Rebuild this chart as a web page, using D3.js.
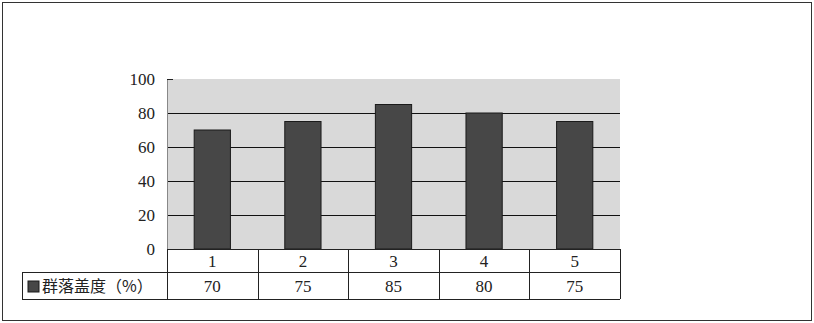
<!DOCTYPE html>
<html>
<head>
<meta charset="utf-8">
<script src="https://d3js.org/d3.v7.min.js"></script>
<style>
  body { margin: 0; background: #fff; }
</style>
</head>
<body>
<div id="chart"></div>
<script>
// chart data
const categories = ['1', '2', '3', '4', '5'];
const coverage = [70, 75, 85, 80, 75];
const seriesName = '群落盖度（%）';
const yTicks = [0, 20, 40, 60, 80, 100];

const width = 814, height = 323;
const plot = { left: 167, right: 620, top: 79, bottom: 249 };
const rowH = [23, 27];
const legendLeft = 22;

const numFont = '"Liberation Serif", "DejaVu Serif", serif';
const cjkFont = '"Noto Sans CJK SC", sans-serif';

const svg = d3.select('#chart')
    .append('svg')
    .attr('width', width)
    .attr('height', height);

svg.append('rect')
    .attr('x', 2.5).attr('y', 2.5)
    .attr('width', 809).attr('height', 318)
    .attr('fill', '#fff')
    .attr('stroke', '#333');

const x = d3.scaleBand()
    .domain(categories)
    .range([plot.left, plot.right]);

const y = d3.scaleLinear()
    .domain([0, 100])
    .range([plot.bottom, plot.top]);

// plot background
svg.append('rect')
    .attr('x', plot.left).attr('y', plot.top)
    .attr('width', plot.right - plot.left)
    .attr('height', plot.bottom - plot.top)
    .attr('fill', '#d9d9d9');

// gridlines
svg.append('g')
    .selectAll('line')
    .data(yTicks.filter(d => d > 0 && d < 100))
    .join('line')
    .attr('x1', plot.left).attr('x2', plot.right)
    .attr('y1', d => Math.round(y(d)) + 0.5)
    .attr('y2', d => Math.round(y(d)) + 0.5)
    .attr('stroke', '#111')
    .attr('stroke-width', 1.2);

// bars
const barW = x.bandwidth() * 0.4;
svg.append('g')
    .selectAll('rect')
    .data(coverage)
    .join('rect')
    .attr('x', (d, i) => x(categories[i]) + (x.bandwidth() - barW) / 2)
    .attr('y', d => y(d))
    .attr('width', barW)
    .attr('height', d => y(0) - y(d))
    .attr('fill', '#474747')
    .attr('stroke', '#1a1a1a')
    .attr('stroke-width', 1);

// y axis
const yAxis = svg.append('g')
    .attr('transform', `translate(${plot.left},0)`)
    .call(d3.axisLeft(y).tickValues(yTicks).tickSize(0).tickPadding(12));
yAxis.select('.domain').attr('stroke', '#888');
yAxis.selectAll('text')
    .attr('font-family', numFont)
    .attr('font-size', 17)
    .attr('fill', '#222');

// top tick at 100
svg.append('line')
    .attr('x1', plot.left).attr('x2', plot.left + 6)
    .attr('y1', y(100) + 0.5).attr('y2', y(100) + 0.5)
    .attr('stroke', '#222');

// data table
const t0 = plot.bottom, t1 = t0 + rowH[0], t2 = t1 + rowH[1];
const table = svg.append('g')
    .attr('stroke', '#222')
    .attr('stroke-width', 1);

table.append('line').attr('x1', plot.left).attr('x2', plot.right)
    .attr('y1', t0 + 0.5).attr('y2', t0 + 0.5);
table.append('line').attr('x1', legendLeft).attr('x2', plot.right)
    .attr('y1', t1 + 0.5).attr('y2', t1 + 0.5);
table.append('line').attr('x1', legendLeft).attr('x2', plot.right)
    .attr('y1', t2 + 0.5).attr('y2', t2 + 0.5);
table.append('line').attr('x1', legendLeft + 0.5).attr('x2', legendLeft + 0.5)
    .attr('y1', t1).attr('y2', t2);

table.selectAll('.col')
    .data(categories.concat(['end']))
    .join('line')
    .attr('class', 'col')
    .attr('x1', (d, i) => Math.round(plot.left + i * x.step()) + 0.5)
    .attr('x2', (d, i) => Math.round(plot.left + i * x.step()) + 0.5)
    .attr('y1', t0)
    .attr('y2', t2);

svg.append('g')
    .selectAll('text')
    .data(categories)
    .join('text')
    .attr('x', d => x(d) + x.bandwidth() / 2)
    .attr('y', (t0 + t1) / 2 + 6)
    .attr('text-anchor', 'middle')
    .attr('font-family', numFont)
    .attr('font-size', 17)
    .attr('fill', '#222')
    .text(d => d);

svg.append('g')
    .selectAll('text')
    .data(coverage)
    .join('text')
    .attr('x', (d, i) => x(categories[i]) + x.bandwidth() / 2)
    .attr('y', (t1 + t2) / 2 + 6)
    .attr('text-anchor', 'middle')
    .attr('font-family', numFont)
    .attr('font-size', 17)
    .attr('fill', '#222')
    .text(d => d);

// legend key in table
svg.append('rect')
    .attr('x', 28).attr('y', 281)
    .attr('width', 11).attr('height', 11)
    .attr('fill', '#474747')
    .attr('stroke', '#1a1a1a');
svg.append('text')
    .attr('x', 42)
    .attr('y', (t1 + t2) / 2 + 6)
    .attr('font-family', cjkFont)
    .attr('font-size', 16)
    .attr('fill', '#222')
    .text(seriesName);
</script>
</body>
</html>
